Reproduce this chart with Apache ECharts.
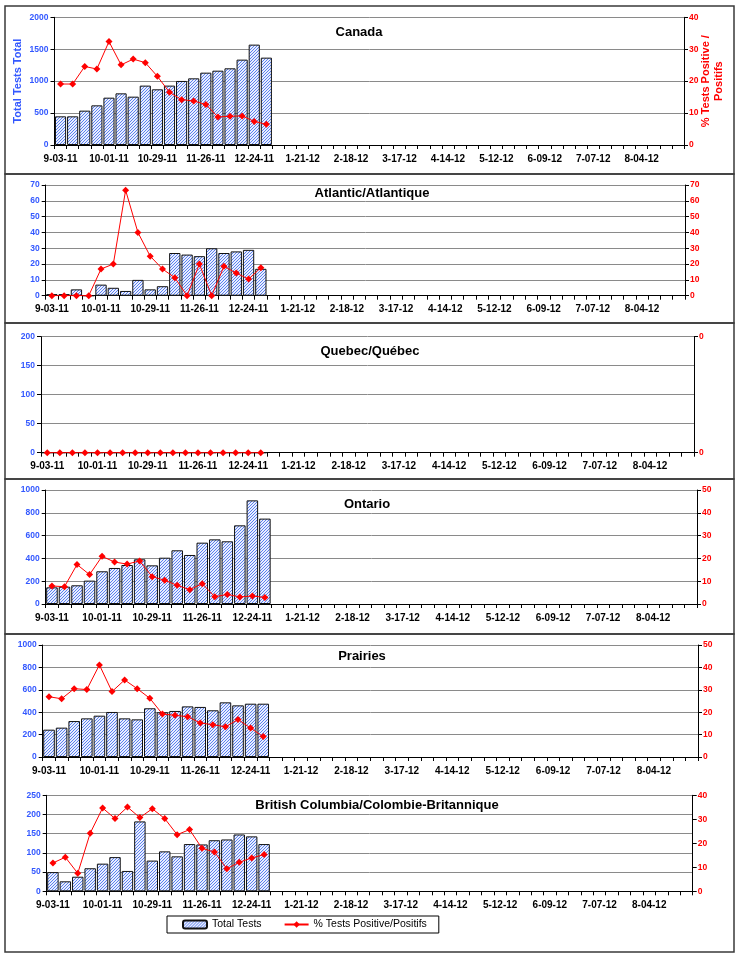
<!DOCTYPE html>
<html>
<head>
<meta charset="utf-8">
<script src="https://cdn.jsdelivr.net/npm/echarts@6/dist/echarts.min.js"></script>
<style>
  html, body { margin: 0; padding: 0; background: #fff; }
  #main { width: 740px; height: 958px; }
</style>
</head>
<body>
<div id="main"></div>
<script>
// weekly categories
const weeks = ['9-03-11', '9-10-11', '9-17-11', '9-24-11', '10-01-11', '10-08-11', '10-15-11', '10-22-11',
  '10-29-11', '11-05-11', '11-12-11', '11-19-11', '11-26-11', '12-03-11', '12-10-11', '12-17-11',
  '12-24-11', '12-31-11', '1-07-12', '1-14-12', '1-21-12', '1-28-12', '2-04-12', '2-11-12',
  '2-18-12', '2-25-12', '3-03-12', '3-10-12', '3-17-12', '3-24-12', '3-31-12', '4-07-12',
  '4-14-12', '4-21-12', '4-28-12', '5-05-12', '5-12-12', '5-19-12', '5-26-12', '6-02-12',
  '6-09-12', '6-16-12', '6-23-12', '6-30-12', '7-07-12', '7-14-12', '7-21-12', '7-28-12',
  '8-04-12', '8-11-12', '8-18-12', '8-25-12']

const panelTitles = ['Canada', 'Atlantic/Atlantique', 'Quebec/Québec', 'Ontario', 'Prairies',
  'British Columbia/Colombie-Britannique']

const canadaTests = [449, 449, 538, 621, 741, 809, 757, 930, 872, 930, 1003, 1044, 1133, 1164, 1201, 1337, 1572, 1368]
const canadaPos = [19.1, 19.1, 24.6, 23.8, 32.4, 25.1, 26.9, 25.8, 21.5, 16.5, 14.2, 13.8, 12.7, 8.8, 9.0, 9.1, 7.4, 6.5]
const atlanticTests = [1, 1, 4, 0, 7, 5, 3, 10, 4, 6, 27, 26, 25, 30, 27, 28, 29, 17]
const atlanticPos = [0, 0, 0, 0, 16.9, 20, 66.7, 40, 25, 16.9, 11.4, 0, 20, 0, 18.6, 14.3, 10.5, 17.7]
const quebecTests = [0, 0, 0, 0, 0, 0, 0, 0, 0, 0, 0, 0, 0, 0, 0, 0, 0, 0]
const quebecPos = [0, 0, 0, 0, 0, 0, 0, 0, 0, 0, 0, 0, 0, 0, 0, 0, 0, 0]
const ontarioTests = [146, 152, 164, 205, 287, 316, 342, 392, 339, 406, 471, 430, 538, 567, 550, 690, 909, 749]
const ontarioPos = [7.9, 7.6, 17.3, 12.9, 20.9, 18.4, 17.5, 18.9, 12.0, 10.4, 8.2, 6.3, 8.9, 3.2, 4.2, 3.1, 3.5, 2.9]
const prairiesTests = [244, 262, 321, 345, 369, 402, 345, 336, 435, 399, 411, 452, 447, 417, 488, 461, 476, 476]
const prairiesPos = [26.9, 26.0, 30.5, 30.1, 41.1, 29.2, 34.4, 30.5, 26.2, 19.2, 18.6, 18.0, 15.2, 14.4, 13.5, 16.7, 12.9, 9.1]
const bcTests = [50, 26, 38, 60, 72, 89, 53, 182, 80, 104, 91, 123, 122, 133, 135, 148, 143, 123]
const bcPos = [11.8, 14.2, 7.5, 24.2, 34.7, 30.3, 35.1, 30.7, 34.4, 30.3, 23.6, 25.7, 17.9, 16.4, 9.4, 12.1, 13.9, 15.3]

// left / right axis ranges
const leftMax = [2000, 70, 200, 1000, 1000, 250]
const leftStep = [500, 10, 50, 200, 200, 50]
const rightMax = [40, 70, 1, 50, 50, 40]
const rightStep = [10, 10, 1, 10, 10, 10]

const testsData = [canadaTests, atlanticTests, quebecTests, ontarioTests, prairiesTests, bcTests]
const posData = [canadaPos, atlanticPos, quebecPos, ontarioPos, prairiesPos, bcPos]

// layout of each panel (px)
const grids = [
  {left: 54.5, top: 17.3, width: 629.5, height: 127.7},
  {left: 45.7, top: 185, width: 639.3, height: 110.7},
  {left: 41, top: 336.7, width: 653, height: 116},
  {left: 45.7, top: 490, width: 651.3, height: 114},
  {left: 42.7, top: 645, width: 655.3, height: 112},
  {left: 46.7, top: 795.3, width: 646, height: 96}
]
const titlePos = [[359, 26], [372, 187], [370, 345], [367, 498], [362, 650], [377, 799]]
const boxes = [[5, 6, 174], [5, 174, 323], [5, 323, 479], [5, 479, 634], [5, 634, 952]]

const FONT = '"Liberation Sans", Arial, sans-serif'
const BLUE = '#3358ff'
const RED = '#ff0000'

// hatched fill for the bars
function hatch() {
  const c = document.createElement('canvas')
  c.width = 3
  c.height = 3
  const ctx = c.getContext('2d')
  ctx.fillStyle = '#e8eeff'
  ctx.fillRect(0, 0, 3, 3)
  ctx.fillStyle = '#5c80ee'
  // one pixel per row, stepping diagonally
  ctx.fillRect(0, 2, 1, 1)
  ctx.fillRect(1, 1, 1, 1)
  ctx.fillRect(2, 0, 1, 1)
  return c
}
const barFill = {image: hatch(), repeat: 'repeat'}

let option = {
  animation: false,
  backgroundColor: '#fff',
  textStyle: {fontFamily: FONT},
  title: [],
  grid: [],
  xAxis: [],
  yAxis: [],
  series: [],
  legend: {
    data: ['Total Tests', '% Tests Positive/Positifs'],
    orient: 'horizontal',
    left: 167,
    top: 916,
    padding: [3, 12, 3, 15],
    itemGap: 22,
    itemWidth: 24,
    itemHeight: 8,
    borderColor: '#000',
    borderWidth: 1,
    textStyle: {fontFamily: FONT, fontSize: 10.5, color: '#000'}
  },
  graphic: []
}

for (let i = 0; i < 6; i++) {
  option.grid.push(grids[i])
  option.title.push({
    text: panelTitles[i],
    left: titlePos[i][0],
    top: titlePos[i][1],
    textAlign: 'center',
    padding: 0,
    textStyle: {fontFamily: FONT, fontSize: 13, fontWeight: 'bold', color: '#000'}
  })
  option.xAxis.push({
    type: 'category',
    gridIndex: i,
    data: weeks,
    boundaryGap: true,
    axisLine: {lineStyle: {color: '#000', width: 1}},
    axisTick: {show: true, interval: 0, length: 4, lineStyle: {color: '#000'}},
    axisLabel: {interval: 3, color: '#000', fontSize: 10, fontWeight: 'bold', margin: 9, fontFamily: FONT},
    splitLine: {show: false}
  })
  option.yAxis.push({
    type: 'value',
    gridIndex: i,
    min: 0,
    max: leftMax[i],
    interval: leftStep[i],
    axisLine: {show: true, lineStyle: {color: '#000'}},
    axisTick: {show: true, length: 4, lineStyle: {color: '#000'}},
    axisLabel: {
      color: BLUE, fontSize: 8.5, fontWeight: 'bold', margin: 6, fontFamily: FONT,
      formatter: v => String(v)
    },
    splitLine: {show: true, lineStyle: {color: '#8a8a8a', width: 1}}
  })
  option.yAxis.push({
    type: 'value',
    gridIndex: i,
    position: 'right',
    min: 0,
    max: rightMax[i],
    interval: rightStep[i],
    axisLine: {show: true, lineStyle: {color: '#000'}},
    axisTick: {show: true, length: 4, lineStyle: {color: '#000'}},
    axisLabel: {
      color: RED, fontSize: 8.5, fontWeight: 'bold', margin: 5, fontFamily: FONT,
      formatter: i === 2 ? () => '0' : v => String(v)
    },
    splitLine: {show: false}
  })
  option.series.push({
    name: 'Total Tests',
    type: 'bar',
    xAxisIndex: i,
    yAxisIndex: i * 2,
    data: testsData[i],
    barCategoryGap: '8%',
    itemStyle: {color: barFill, borderColor: '#111', borderWidth: 1}
  })
  option.series.push({
    name: '% Tests Positive/Positifs',
    type: 'line',
    xAxisIndex: i,
    yAxisIndex: i * 2 + 1,
    data: posData[i],
    symbol: 'diamond',
    symbolSize: 7,
    lineStyle: {color: RED, width: 1},
    itemStyle: {color: RED}
  })
}

// axis names only on the Canada panel
option.yAxis[0].name = 'Total Tests Total'
option.yAxis[0].nameLocation = 'middle'
option.yAxis[0].nameGap = 31
option.yAxis[0].nameMoveOverlap = false
option.yAxis[0].nameTextStyle = {color: BLUE, fontSize: 11, fontWeight: 'bold', fontFamily: FONT}
option.yAxis[1].name = '% Tests Positive /\nPositifs'
option.yAxis[1].nameLocation = 'middle'
option.yAxis[1].nameRotate = 90
option.yAxis[1].nameGap = 15
option.yAxis[1].nameMoveOverlap = false
option.yAxis[1].nameTextStyle = {color: RED, fontSize: 11, fontWeight: 'bold', fontFamily: FONT, lineHeight: 13}

// panel frames
boxes.forEach(b => {
  option.graphic.push({
    type: 'rect',
    shape: {x: b[0], y: b[1], width: 729, height: b[2] - b[1]},
    style: {fill: 'none', stroke: '#3a3a3a', lineWidth: 1.5},
    silent: true
  })
})

const chartDom = document.getElementById('main')
const myChart = echarts.init(chartDom)
option && myChart.setOption(option)
</script>
</body>
</html>
